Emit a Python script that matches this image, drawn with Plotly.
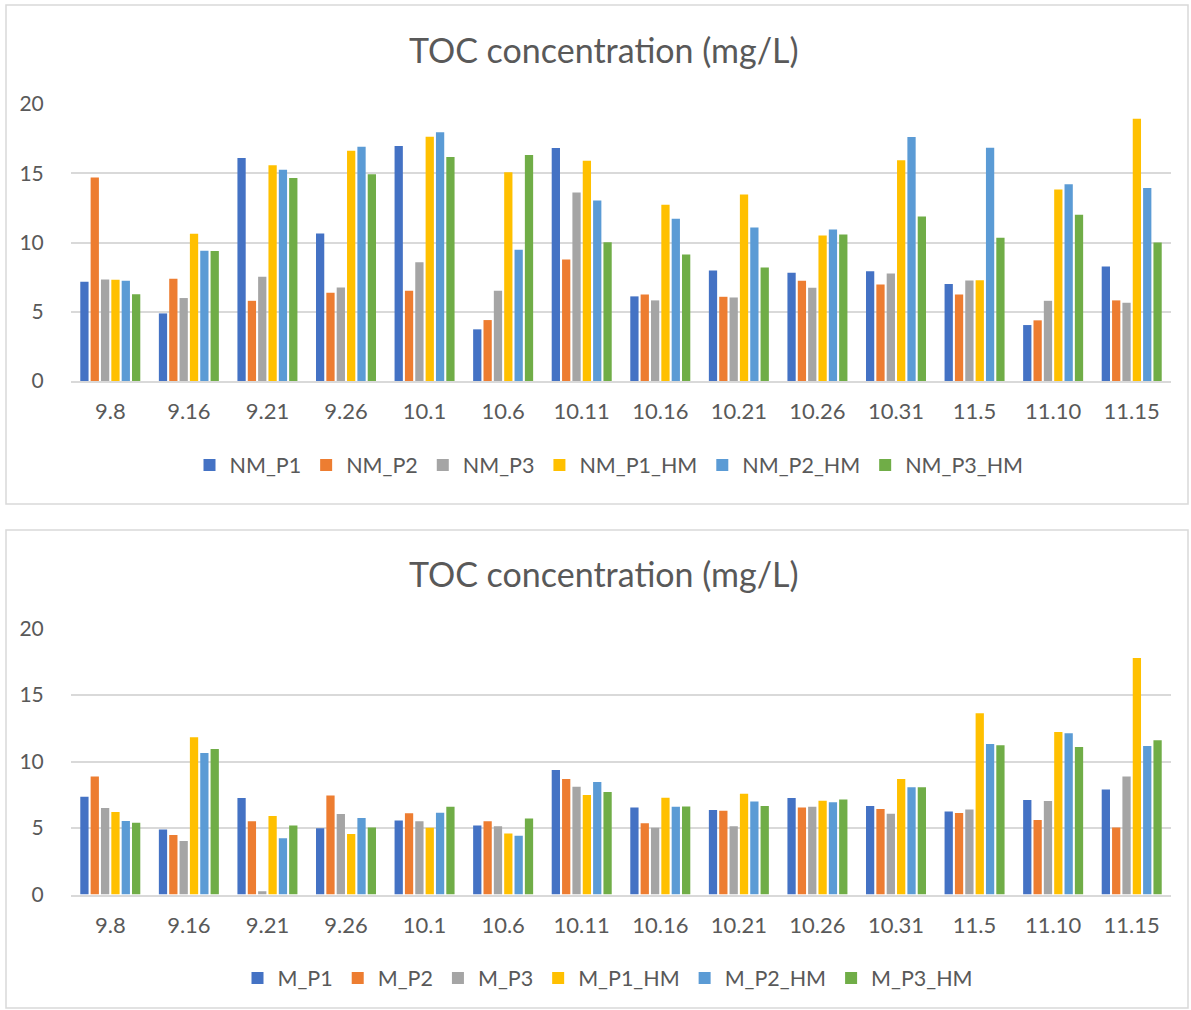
import plotly.graph_objects as go

W, H = 1191, 1010

categories = ["9.8", "9.16", "9.21", "9.26", "10.1", "10.6", "10.11", "10.16",
              "10.21", "10.26", "10.31", "11.5", "11.10", "11.15"]

NM_P1 = [7.16, 4.88, 16.11, 10.65, 16.97, 3.73, 16.83, 6.11, 7.98, 7.81, 7.93, 7.00, 4.04, 8.27]
NM_P2 = [14.69, 7.38, 5.79, 6.37, 6.51, 4.40, 8.77, 6.25, 6.08, 7.24, 6.97, 6.25, 4.38, 5.82]
NM_P3 = [7.33, 5.99, 7.52, 6.75, 8.58, 6.51, 13.61, 5.82, 6.03, 6.73, 7.76, 7.26, 5.79, 5.65]
NM_P1_HM = [7.31, 10.63, 15.58, 16.63, 17.64, 15.07, 15.91, 12.72, 13.46, 10.50, 15.94, 7.28, 13.82, 18.94]
NM_P2_HM = [7.24, 9.40, 15.26, 16.92, 17.96, 9.47, 13.03, 11.71, 11.08, 10.94, 17.62, 16.85, 14.21, 13.94]
NM_P3_HM = [6.27, 9.38, 14.66, 14.93, 16.18, 16.32, 10.02, 9.13, 8.20, 10.58, 11.88, 10.34, 12.00, 10.00]

M_P1 = [7.35, 4.89, 7.25, 4.99, 5.57, 5.19, 9.36, 6.55, 6.35, 7.25, 6.65, 6.25, 7.10, 7.90]
M_P2 = [8.88, 4.47, 5.50, 7.45, 6.10, 5.50, 8.68, 5.35, 6.30, 6.55, 6.42, 6.12, 5.60, 5.04]
M_P3 = [6.50, 4.02, 0.25, 6.05, 5.50, 5.14, 8.11, 5.02, 5.14, 6.60, 6.07, 6.40, 7.03, 8.88]
M_P1_HM = [6.20, 11.82, 5.90, 4.54, 5.02, 4.59, 7.48, 7.28, 7.58, 7.05, 8.68, 13.63, 12.22, 17.79]
M_P2_HM = [5.52, 10.64, 4.22, 5.75, 6.15, 4.42, 8.46, 6.60, 7.00, 6.93, 8.06, 11.32, 12.12, 11.17]
M_P3_HM = [5.40, 10.94, 5.19, 5.04, 6.60, 5.72, 7.70, 6.62, 6.65, 7.15, 8.06, 11.22, 11.09, 11.59]

title_text = "TOC concentration (mg/L)"
y_ticks = [0, 5, 10, 15, 20]

colors = ["#4472C4", "#ED7D31", "#A5A5A5", "#FFC000", "#5B9BD5", "#70AD47"]
FONT = "Lato, 'Open Sans', sans-serif"
TXT = "#595959"
GRID = "#D9D9D9"

top_series = [("NM_P1", NM_P1), ("NM_P2", NM_P2), ("NM_P3", NM_P3),
              ("NM_P1_HM", NM_P1_HM), ("NM_P2_HM", NM_P2_HM), ("NM_P3_HM", NM_P3_HM)]
bot_series = [("M_P1", M_P1), ("M_P2", M_P2), ("M_P3", M_P3),
              ("M_P1_HM", M_P1_HM), ("M_P2_HM", M_P2_HM), ("M_P3_HM", M_P3_HM)]


def px_x(x):
    return x / W


def px_y(y):
    return 1 - y / H


fig = go.Figure()

for i, (name, vals) in enumerate(top_series):
    fig.add_trace(go.Bar(x=categories, y=vals, name=name, marker_color=colors[i],
                         marker_line_width=0, xaxis="x", yaxis="y", legend="legend"))
for i, (name, vals) in enumerate(bot_series):
    fig.add_trace(go.Bar(x=categories, y=vals, name=name, marker_color=colors[i],
                         marker_line_width=0, xaxis="x2", yaxis="y2", legend="legend2"))

xdom = [px_x(71), px_x(1171)]
common_x = dict(domain=xdom, showgrid=False, showline=True, linecolor=GRID, linewidth=1.5,
                ticks="outside", ticklen=10, tickcolor="rgba(0,0,0,0)",
                tickfont=dict(family=FONT, size=22, color=TXT), fixedrange=True)
common_y = dict(range=[0, 20], tickvals=y_ticks, showgrid=True, gridcolor=GRID, gridwidth=1.5,
                zeroline=False, showline=False, ticks="outside", ticklen=22,
                tickcolor="rgba(0,0,0,0)",
                tickfont=dict(family=FONT, size=21, color=TXT), fixedrange=True)

legend_font = dict(family=FONT, size=21.5, color=TXT)

fig.update_layout(
    width=W, height=H,
    margin=dict(l=0, r=0, t=0, b=0, pad=0, autoexpand=False),
    paper_bgcolor="white", plot_bgcolor="white",
    barmode="group", bargap=0.21, bargroupgap=0.2,
    xaxis=dict(anchor="y", **common_x),
    yaxis=dict(anchor="x", domain=[px_y(381), px_y(104)], **common_y),
    xaxis2=dict(anchor="y2", **common_x),
    yaxis2=dict(anchor="x2", domain=[px_y(894.5), px_y(628.5)], **common_y),
    legend=dict(orientation="h", x=px_x(609), xanchor="center", y=px_y(465), yanchor="middle",
                font=legend_font, itemwidth=30, bgcolor="rgba(0,0,0,0)"),
    legend2=dict(orientation="h", x=px_x(608), xanchor="center", y=px_y(978), yanchor="middle",
                 font=legend_font, itemwidth=30, bgcolor="rgba(0,0,0,0)"),
    shapes=[
        dict(type="rect", xref="paper", yref="paper", x0=px_x(6), x1=px_x(1188),
             y0=px_y(504), y1=px_y(5), line=dict(color=GRID, width=1.5)),
        dict(type="rect", xref="paper", yref="paper", x0=px_x(6), x1=px_x(1188),
             y0=px_y(1008), y1=px_y(530), line=dict(color=GRID, width=1.5)),
    ],
    annotations=[
        dict(text=title_text, xref="paper", yref="paper", x=px_x(604), y=px_y(49),
             xanchor="center", yanchor="middle", showarrow=False,
             font=dict(family=FONT, size=34, color=TXT)),
        dict(text=title_text, xref="paper", yref="paper", x=px_x(604), y=px_y(573),
             xanchor="center", yanchor="middle", showarrow=False,
             font=dict(family=FONT, size=34, color=TXT)),
    ],
)

fig.write_html("out.html")
